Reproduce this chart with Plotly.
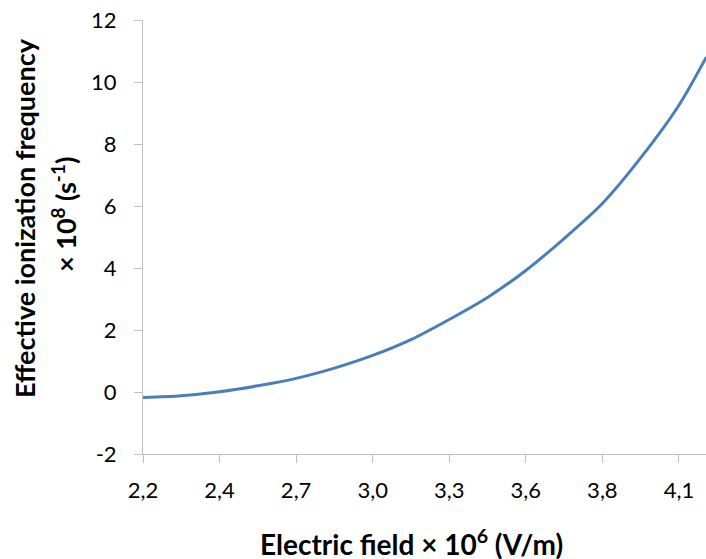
import plotly.graph_objects as go

# Electric field (x 10^6 V/m) and effective ionization frequency (x 10^8 s^-1)
electric_field = [2.16, 2.30, 2.44, 2.58, 2.72, 2.86, 3.00, 3.14, 3.28, 3.42,
                  3.56, 3.70, 3.84, 3.98, 4.12, 4.22]
ionization_freq = [-0.18, -0.12, 0.01, 0.20, 0.44, 0.77, 1.18, 1.69, 2.34, 3.05,
                   3.92, 4.95, 6.08, 7.55, 9.25, 10.80]

x_tick_vals = [2.16, 2.44, 2.72, 3.00, 3.28, 3.56, 3.84, 4.12]
x_tick_text = ["2,2", "2,4", "2,7", "3,0", "3,3", "3,6", "3,8", "4,1"]
y_tick_vals = [-2, 0, 2, 4, 6, 8, 10, 12]
y_tick_text = ["-2", "0", "2", "4", "6", "8", "10", "12"]

FONT = "Lato"
AXIS_COLOR = "#bfbfbf"

fig = go.Figure()
fig.add_trace(go.Scatter(
    x=electric_field, y=ionization_freq, mode="lines",
    line=dict(color="#4a7ebb", width=3, shape="spline", smoothing=0.8),
    showlegend=False, hoverinfo="skip",
))

fig.update_layout(
    width=706, height=559,
    margin=dict(l=143, r=0, t=20, b=105),
    paper_bgcolor="white", plot_bgcolor="white",
    font=dict(family=FONT, size=22, color="black"),
    xaxis=dict(
        range=[2.16, 4.219], tickmode="array", tickvals=x_tick_vals, ticktext=x_tick_text,
        showgrid=False, zeroline=False, showline=True, linecolor=AXIS_COLOR, linewidth=1,
        ticks="outside", ticklen=8, tickcolor=AXIS_COLOR, tickwidth=1, automargin=False,
        tickfont=dict(family=FONT, size=22, color="black"), ticklabelstandoff=9,
    ),
    yaxis=dict(
        range=[-2, 12], tickmode="array", tickvals=y_tick_vals, ticktext=y_tick_text,
        showgrid=False, zeroline=False, showline=True, linecolor=AXIS_COLOR, linewidth=1,
        ticks="outside", ticklen=8, tickcolor=AXIS_COLOR, tickwidth=1, automargin=False,
        tickfont=dict(family=FONT, size=22, color="black"), ticklabelstandoff=13,
    ),
    annotations=[
        dict(text="Electric field × 10<sup>6</sup> (V/m)", xref="paper", yref="paper",
             x=(411 - 143) / 563, y=-(542 - 454) / 434, xanchor="center", yanchor="middle",
             showarrow=False, font=dict(family=FONT, size=28, color="black", weight="bold")),
        dict(text="Effective ionization frequency", xref="paper", yref="paper",
             x=-(143 - 24) / 563, y=(454 - 218) / 434, xanchor="center", yanchor="middle",
             textangle=-90, showarrow=False,
             font=dict(family=FONT, size=27, color="black", weight="bold")),
        dict(text="× 10<sup>8</sup> (s<sup>-1</sup>)", xref="paper", yref="paper",
             x=-(143 - 64) / 563, y=(454 - 215) / 434, xanchor="center", yanchor="middle",
             textangle=-90, showarrow=False,
             font=dict(family=FONT, size=27, color="black", weight="bold")),
    ],
)

fig.write_html(
    "out.html",
    config={"displayModeBar": False},
    post_script="document.body.style.margin='0';document.body.style.overflow='hidden';",
)
